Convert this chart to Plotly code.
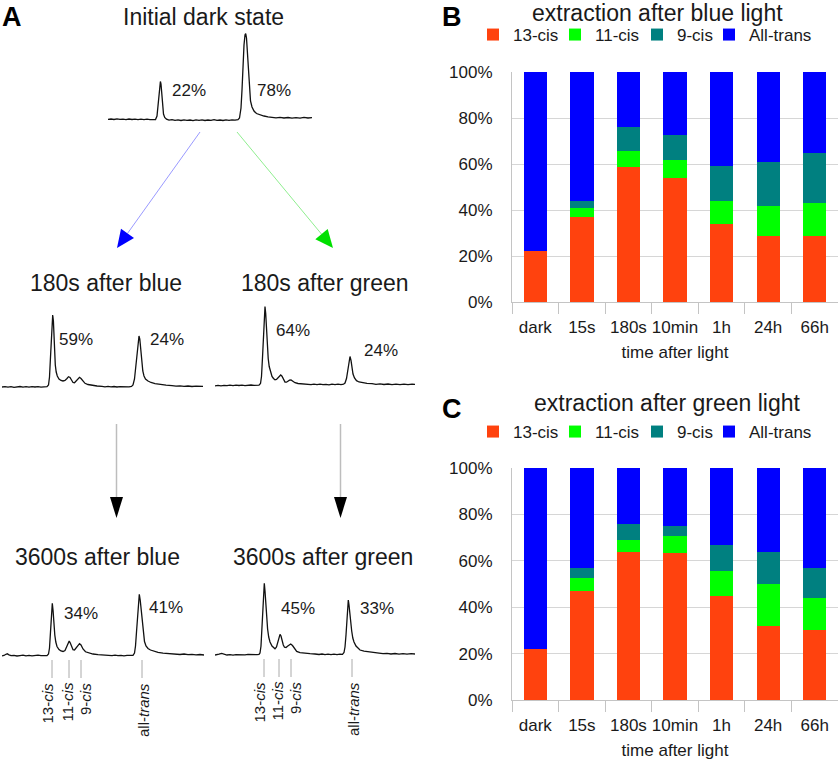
import plotly.graph_objects as go

W, H = 840, 765

# ---------------- data: panels B and C (percent of isomers) ----------------
categories = ["dark", "15s", "180s", "10min", "1h", "24h", "66h"]
series_names = ["13-cis", "11-cis", "9-cis", "All-trans"]

blue_13cis = [22, 37, 58.8, 53.8, 34, 28.9, 28.9]
blue_11cis = [0, 4, 6.8, 7.9, 9.9, 13, 14]
blue_9cis = [0, 3.1, 10.6, 10.8, 15.2, 19.1, 22.1]
blue_alltrans = [78, 55.9, 23.8, 27.5, 40.9, 39, 35]

green_13cis = [22, 47.1, 64, 63.2, 45, 32.1, 30.1]
green_11cis = [0, 5.4, 4.9, 7.7, 10.8, 18, 13.9]
green_9cis = [0, 4.2, 7.1, 4.2, 11.2, 13.8, 13]
green_alltrans = [78, 43.3, 24, 24.9, 33, 36.1, 43]

y_ticks = [0, 20, 40, 60, 80, 100]
y_ticktext = [f"{v}%" for v in y_ticks]

# ---------------- data: panel A chromatograms (time units, signal mAU) ----------------
dark_t = [0, 3, 6, 9, 12, 15, 18, 21, 24, 27, 30, 33, 36, 39, 42, 45,
          47.5, 49, 50, 51, 51.8, 52.4, 53, 53.8, 54.6, 55.5, 56.7, 58.5,
          61, 64, 67, 70, 73, 76, 79, 82, 85, 88, 91, 94, 97, 100, 103, 106, 109, 112, 115, 118, 121, 124, 127, 130,
          131.5, 133, 134, 135, 136, 137, 137.7, 138.5, 139.3, 140.2, 141.2, 142.5, 144, 146, 148.5, 152, 156, 160,
          164, 168, 172, 176, 180, 184, 188, 192, 196, 200, 204]
dark_s = [0.6, 1.0, 0.5, 1.1, 0.6, 0.9, 0.4, 1.0, 0.5, 0.9, 0.3, 0.8, 0.4, 0.8, 0.3, 0.6,
          0.5, 4, 14, 27, 36, 38.5, 36, 26, 14, 6, 2.5, 0.8,
          -0.2, 0.3, -0.4, 0.1, -0.5, 0.2, -0.3, 0.0, -0.6, 0.1, -0.4, 0.2, -0.5, 0.0, -0.3, 0.3, -0.4, 0.0, -0.5, 0.1, -0.3, 0.2, -0.2, 0.4,
          2, 12, 30, 55, 75, 85, 86.5, 82, 68, 48, 30, 19, 13, 9, 6.5, 5, 4, 3.2,
          2.8, 2.2, 2.7, 2.0, 2.5, 1.8, 2.4, 1.9, 2.6, 2.0, 2.4]

b180_t = [0, 3, 6, 9, 12, 15, 18, 21, 24, 27, 30, 33, 36, 39, 42, 45,
          46.5, 47.5, 48.5, 49.3, 50, 50.7, 51.4, 52, 52.6, 53.3, 54.2, 55.3, 57, 59, 61, 63, 65, 66.5, 68, 69.5,
          71, 72.5, 74, 76, 77.5, 79, 81, 83, 86, 90, 95, 100,
          103, 106, 109, 112, 115, 118, 121, 124, 127, 129.5,
          131, 132.5, 133.8, 135, 136.2, 137, 137.8, 138.7, 139.7, 140.8, 142, 143.5, 146, 149, 153, 158, 164, 170,
          174, 178, 182, 186, 190, 194, 198, 201]
b180_s = [0.0, 0.4, -0.2, 0.3, -0.3, 0.2, 0.5, -0.1, 0.3, -0.2, 0.4, 0.0, 0.3, -0.2, 0.2, 0.3,
          2, 10, 30, 50, 66, 72, 66, 48, 32, 22, 15, 11, 8, 6.5, 6, 6.5, 8.5, 10.3, 9.5, 6.5,
          4.5, 4.3, 6, 8.7, 9.7, 8.5, 5.5, 3.7, 2.5, 1.5, 1.0, 0.6,
          0.2, 0.6, 0.1, 0.5, 0.0, 0.4, 0.1, 0.5, 0.2, 0.6,
          2, 8, 20, 36, 48, 51, 48, 37, 25, 16, 11, 8, 6, 4.5, 3.4, 2.5, 1.8, 1.3,
          0.8, 1.2, 0.6, 1.0, 0.5, 0.9, 0.4, 0.6]

g180_t = [0, 3, 6, 9, 12, 15, 18, 21, 24, 27, 30, 33, 36, 39, 42, 44,
          45.5, 46.5, 47.5, 48.5, 49.3, 50, 50.7, 51.5, 52.3, 53.2, 54.2, 55.5, 57, 58.5, 60, 61.5, 63, 64.5, 65.7,
          67, 68.5, 70, 71.5, 73, 74.5, 76, 78, 80, 83, 87, 92,
          96, 99, 102, 105, 108, 111, 114, 117, 120, 123, 126, 128.5,
          130, 131.5, 132.8, 134, 135, 136, 137, 138, 139.5, 141.5, 144, 148, 152, 157,
          161, 165, 169, 173, 177, 181, 185, 189, 193, 197, 200]
g180_s = [-0.3, 0.2, -0.4, 0.1, -0.2, 0.3, -0.1, 0.4, 0.0, 0.3, -0.2, 0.2, 0.5, 0.1, 0.4, 0.3,
          2, 9, 28, 55, 72, 79, 72, 55, 40, 27, 19, 13, 9, 7, 5.8, 6, 7.8, 9.8, 10.5,
          9.3, 5.5, 3.4, 3.3, 4.5, 5.3, 5.5, 4.2, 2.8, 2.0, 1.6, 1.2,
          0.8, 1.3, 0.9, 1.4, 0.8, 1.2, 0.7, 1.3, 0.9, 1.4, 0.9, 1.3,
          2.5, 7, 15, 25, 29, 25, 17, 11.5, 7.5, 4.8, 3.5, 2.7, 2.2, 1.8,
          1.2, 1.7, 1.0, 1.5, 0.9, 1.4, 0.8, 1.3, 0.9, 1.4, 1.1]

b3600_t = [0, 2, 3.5, 5.3, 7, 9, 12, 15, 18, 21, 24, 27, 30, 33, 36, 39, 42, 45,
           46.5, 47.5, 48.5, 49.4, 50.3, 51.1, 51.9, 52.8, 53.8, 55, 57, 59, 61, 63, 65, 66.2, 67.2, 68.3, 69.5,
           71, 72.5, 74, 76, 77.5, 79, 81, 83.5, 87, 91, 96, 101,
           104, 107, 110, 113, 116, 119, 122, 125, 128, 131,
           132.5, 133.5, 134.5, 135.5, 136.4, 137.3, 138.2, 139.2, 140.2, 141.3, 142.5, 144, 146, 148.5, 152, 156, 161,
           166, 170, 174, 178, 182, 186, 190, 194, 198, 202]
b3600_s = [0.2, 0.5, 1.5, 2.2, 1.2, 0.3, 0.6, 0.0, 0.4, 0.8, 0.2, 0.6, 0.1, 0.5, 0.9, 0.3, 0.6, 0.4,
           2, 8, 24, 42, 52.7, 45, 32, 21, 14, 9.5, 6.5, 5, 4.5, 5.5, 10, 14, 15, 13, 9,
           6.3, 6, 7.8, 11, 12.3, 11, 7, 4.2, 2.8, 2.0, 1.4, 1.0,
           0.6, 1.0, 0.4, 0.8, 0.3, 0.7, 0.2, 0.6, 0.3, 0.6,
           3, 10, 24, 42, 56, 61.7, 56, 45, 33, 22, 14.5, 10, 7.5, 6, 4.6, 3.6, 2.8,
           2.4, 1.8, 2.2, 1.5, 2.0, 1.3, 1.7, 1.1, 1.5, 1.0]

g3600_t = [0, 2, 4, 6.7, 9, 12, 15, 18, 21, 24, 27, 30, 33, 36, 39, 42, 44,
           45, 46, 47, 48, 48.7, 49.3, 50, 50.8, 51.7, 52.6, 53.7, 55, 57, 58.5, 60, 61.5, 63, 64, 65,
           66, 67, 68.3, 69.5, 71, 72.5, 74, 75.7, 77.5, 79.5, 81.7, 85, 89, 95, 100,
           104, 107, 110, 113, 116, 119, 122, 125, 127.5,
           129, 130, 131, 132, 132.7, 133.3, 134, 134.8, 135.7, 136.7, 137.8, 139, 141, 143, 145, 149, 155, 160,
           164, 168, 172, 176, 180, 184, 188, 192, 196, 200]
g3600_s = [0.0, 0.2, 0.8, 1.6, 0.6, 0.0, 0.3, -0.1, 0.4, 0.1, 0.5, 0.2, 0.6, 0.3, 0.7, 0.4, 0.6,
           2, 9, 26, 50, 64, 71.7, 64, 48, 36, 26, 18, 13, 9, 7, 6.2, 8, 13, 18, 20.7,
           19, 14.5, 10, 7.8, 7.5, 8.8, 10.3, 11, 9.5, 6, 3.6, 2.4, 1.8, 1.3, 1.0,
           0.5, 1.0, 0.4, 0.9, 0.3, 0.8, 0.4, 0.9, 0.7,
           2.5, 8, 20, 38, 50, 55, 50, 41, 33, 24, 17, 13, 9, 6.5, 5, 3.8, 2.7, 2.2,
           1.8, 1.3, 1.7, 1.0, 1.5, 0.9, 1.4, 0.8, 1.3, 1.0]

# peak positions (time units) of the labelled isomers in the 3600 s traces
peak_names = ["13-<i>cis</i>", "11-<i>cis</i>", "9-<i>cis</i>", "all-<i>trans</i>"]
b3600_peaks = [50, 67, 79, 140]
g3600_peaks = [49, 64, 76, 137]

# peak percentages written next to the traces
dark_pct = ["22%", "78%"]
b180_pct = ["59%", "24%"]
g180_pct = ["64%", "24%"]
b3600_pct = ["34%", "41%"]
g3600_pct = ["45%", "33%"]

trace_titles = ["Initial dark state", "180s after blue", "180s after green",
                "3600s after blue", "3600s after green"]

# ---------------- styling / layout ----------------
FONT = "Liberation Sans, Arial, sans-serif"
TXT = "#1a1a1a"
bar_colors = ["#ff420e", "#00ff00", "#008080", "#0000ff"]


def px_x(x):
    return x / W


def px_y(y):
    return 1 - y / H


fig = go.Figure()

# stacked bars B (x/y) and C (x2/y2); All-trans entry gets its own legend box
for name, vals, col in zip(series_names, [blue_13cis, blue_11cis, blue_9cis, blue_alltrans], bar_colors):
    fig.add_trace(go.Bar(x=categories, y=vals, name=name, marker=dict(color=col, line=dict(width=0)),
                         xaxis="x", yaxis="y", legend="legend3" if name == "All-trans" else "legend",
                         hoverinfo="skip"))
for name, vals, col in zip(series_names, [green_13cis, green_11cis, green_9cis, green_alltrans], bar_colors):
    fig.add_trace(go.Bar(x=categories, y=vals, name=name, marker=dict(color=col, line=dict(width=0)),
                         xaxis="x2", yaxis="y2", legend="legend4" if name == "All-trans" else "legend2",
                         hoverinfo="skip"))

# chromatograms: (t, s, left px, width px, baseline px)
chroms = [
    (dark_t, dark_s, 108, 204, 120),
    (b180_t, b180_s, 2, 201, 387),
    (g180_t, g180_s, 215, 200, 385.5),
    (b3600_t, b3600_s, 2, 203, 656),
    (g3600_t, g3600_s, 215, 200, 655),
]

layout_axes = {}
for i, (t, s, left, width, base) in enumerate(chroms):
    k = i + 3
    fig.add_trace(go.Scatter(x=t, y=s, mode="lines", line=dict(color="#111111", width=1.3),
                             xaxis=f"x{k}", yaxis=f"y{k}", showlegend=False, hoverinfo="skip"))
    layout_axes[f"xaxis{k}"] = dict(domain=[px_x(left), px_x(left + width)], range=[0, width],
                                    visible=False, anchor=f"y{k}", fixedrange=True, automargin=False)
    layout_axes[f"yaxis{k}"] = dict(domain=[px_y(base + 60), px_y(base - 100)], range=[-60, 100],
                                    visible=False, anchor=f"x{k}", fixedrange=True, automargin=False)

annotations = []
shapes = []

# percent labels: (axis index, time, height)
pct_pos = [
    (3, dark_pct, [(62, 30), (147, 30)]),
    (4, b180_pct, [(55, 48), (146, 48)]),
    (5, g180_pct, [(59, 55.5), (147, 35.5)]),
    (6, b3600_pct, [(60, 43), (145, 49)]),
    (7, g3600_pct, [(64, 47), (143, 47)]),
]
for k, texts, poss in pct_pos:
    for txt, (tx, ty) in zip(texts, poss):
        annotations.append(dict(text=txt, x=tx, y=ty, xref=f"x{k}", yref=f"y{k}", xanchor="left",
                                yanchor="middle", showarrow=False, font=dict(size=17, color=TXT, family=FONT)))

# peak marker lines and rotated names
label_shift = [-5, -2, 4, 1]
for k, peaks in [(6, b3600_peaks), (7, g3600_peaks)]:
    for name, pt, sh in zip(peak_names, peaks, label_shift):
        shapes.append(dict(type="line", xref=f"x{k}", yref=f"y{k}", x0=pt, x1=pt, y0=-4, y1=-22,
                           line=dict(color="#aaaaaa", width=1)))
        annotations.append(dict(text=name, x=pt, y=-25, xref=f"x{k}", yref=f"y{k}", textangle=-90,
                                xanchor="center", yanchor="top", xshift=sh, showarrow=False,
                                font=dict(size=15, color=TXT, family=FONT)))

# titles of the chromatograms (pixel centres)
title_pos = [(203, 17), (106, 283), (325, 283), (97, 557), (323, 557)]
for txt, (cx, cy) in zip(trace_titles, title_pos):
    annotations.append(dict(text=txt, x=px_x(cx), y=px_y(cy), xref="paper", yref="paper",
                            xanchor="center", yanchor="middle", showarrow=False,
                            font=dict(size=23, color=TXT, family=FONT)))

# panel letters
for letter, (lx, ly) in zip(["A", "B", "C"], [(0, 0), (440, 0), (440, 392)]):
    annotations.append(dict(text=f"<b>{letter}</b>", x=px_x(lx), y=px_y(ly), xref="paper", yref="paper",
                            xanchor="left", yanchor="top", showarrow=False,
                            font=dict(size=27, color="#000000", family=FONT)))

# bar chart titles
for txt, (cx, cy) in zip(["extraction after blue light", "extraction after green light"],
                         [(657, 13), (667, 403)]):
    annotations.append(dict(text=txt, x=px_x(cx), y=px_y(cy), xref="paper", yref="paper",
                            xanchor="center", yanchor="middle", showarrow=False,
                            font=dict(size=23, color=TXT, family=FONT)))


def ppath(points):
    d = "M " + " L ".join(f"{px_x(x):.5f},{px_y(y):.5f}" for x, y in points) + " Z"
    return d


# arrows in panel A
shapes.append(dict(type="line", xref="paper", yref="paper", x0=px_x(200), y0=px_y(132),
                   x1=px_x(127.5), y1=px_y(233.4), line=dict(color="#9a9aff", width=1)))
shapes.append(dict(type="path", xref="paper", yref="paper",
                   path=ppath([(117, 248), (134, 238.1), (121, 228.7)]),
                   fillcolor="#0000ff", line=dict(width=0)))
shapes.append(dict(type="line", xref="paper", yref="paper", x0=px_x(237), y0=px_y(132),
                   x1=px_x(321.5), y1=px_y(234.1), line=dict(color="#8fee8f", width=1)))
shapes.append(dict(type="path", xref="paper", yref="paper",
                   path=ppath([(333, 248), (327.7, 229), (315.3, 239.2)]),
                   fillcolor="#00e000", line=dict(width=0)))
for ax_x in (116.5, 340.5):
    shapes.append(dict(type="line", xref="paper", yref="paper", x0=px_x(ax_x), y0=px_y(424),
                       x1=px_x(ax_x), y1=px_y(498), line=dict(color="#bdbdbd", width=1.5)))
    shapes.append(dict(type="path", xref="paper", yref="paper",
                       path=ppath([(ax_x - 6.5, 497), (ax_x + 6.5, 497), (ax_x, 518)]),
                       fillcolor="#000000", line=dict(width=0)))

grid_col = "#d6d6d6"
line_col = "#c4c4c4"


def bar_xaxis(anchor):
    return dict(domain=[px_x(512), px_x(838)], anchor=anchor, type="category",
                tickson="boundaries", ticks="outside", ticklen=11, tickcolor=line_col,
                showline=True, linecolor=line_col, linewidth=1, showgrid=False, tickangle=0,
                ticklabelstandoff=10,
                tickfont=dict(size=17, color=TXT, family=FONT), automargin=False,
                title=dict(text="time after light", font=dict(size=17, color=TXT, family=FONT), standoff=9),
                fixedrange=True)


def bar_yaxis(anchor, top, bottom):
    return dict(domain=[px_y(bottom), px_y(top)], anchor=anchor, range=[0, 100],
                tickmode="array", tickvals=y_ticks, ticktext=y_ticktext, automargin=False,
                showgrid=True, gridcolor=grid_col, gridwidth=1,
                zeroline=False, showline=True, linecolor=line_col, linewidth=1,
                ticks="outside", ticklen=15, tickcolor="rgba(0,0,0,0)",
                tickfont=dict(size=17, color=TXT, family=FONT), fixedrange=True)


legend_common = dict(orientation="h", xanchor="left", yanchor="middle", bgcolor="rgba(0,0,0,0)",
                     font=dict(size=17, color=TXT, family=FONT), itemclick=False, itemdoubleclick=False,
                     traceorder="normal")

fig.update_layout(
    width=W, height=H,
    margin=dict(l=0, r=0, t=0, b=0, autoexpand=False),
    paper_bgcolor="white", plot_bgcolor="white",
    barmode="stack", bargap=0.5,
    font=dict(family=FONT, color=TXT),
    xaxis=bar_xaxis("y"),
    yaxis=bar_yaxis("x", 72, 302),
    xaxis2=bar_xaxis("y2"),
    yaxis2=bar_yaxis("x2", 468, 700),
    legend=dict(x=px_x(473), y=px_y(35), entrywidth=37, entrywidthmode="pixels", **legend_common),
    legend2=dict(x=px_x(473), y=px_y(432), entrywidth=37, entrywidthmode="pixels", **legend_common),
    legend3=dict(x=px_x(709), y=px_y(35), **legend_common),
    legend4=dict(x=px_x(709), y=px_y(432), **legend_common),
    annotations=annotations,
    shapes=shapes,
    showlegend=True,
    **layout_axes,
)

fig.write_html("out.html", config={"displayModeBar": False},
               post_script="document.body.style.margin='0';document.body.style.overflow='hidden';")
